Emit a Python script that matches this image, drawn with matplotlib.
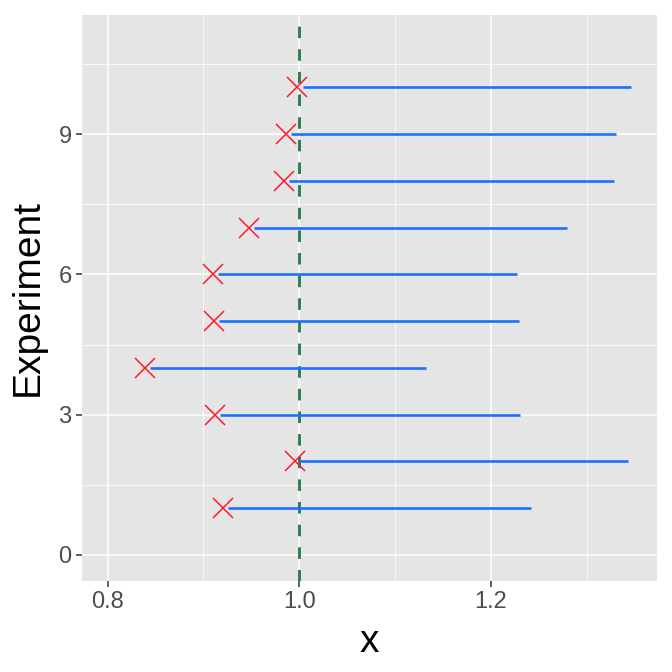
import matplotlib.pyplot as plt
import matplotlib.ticker as mticker

# Experiment index and estimates
experiment = [1, 2, 3, 4, 5, 6, 7, 8, 9, 10]
point_est = [0.9204, 0.9952, 0.9120, 0.8386, 0.9110, 0.9099, 0.9475, 0.9843, 0.9858, 0.9979]
seg_start = [0.9256, 1.0000, 0.9172, 0.8440, 0.9162, 0.9154, 0.9527, 0.9896, 0.9913, 1.0035]
seg_end = [1.2419, 1.3428, 1.2307, 1.1319, 1.2293, 1.2276, 1.2791, 1.3282, 1.3303, 1.3462]
ref_value = 1.0

x_ticks = [0.8, 1.0, 1.2]
y_ticks = [0, 3, 6, 9]

plt.rcParams.update({
    'font.family': ['Liberation Sans', 'DejaVu Sans'],
    'lines.scale_dashes': False,
})

fig = plt.figure(figsize=(6.72, 6.72), dpi=100)
ax = fig.add_axes([0.122, 0.1359, 0.855, 0.8418])
ax.set_facecolor('#E5E5E5')

# segments
for y, x0, x1 in zip(experiment, seg_start, seg_end):
    ax.plot([x0, x1], [y, y], color='#1F6FFF', linewidth=1.9,
            solid_capstyle='butt', zorder=3)

# point estimates
ax.plot(point_est, experiment, linestyle='none', marker='x', markersize=14,
        markeredgewidth=1.1, color='#FF1A2A', zorder=4)

# reference line
ax.axvline(ref_value, color='#2A7F4F', linewidth=2.1, dashes=(8.3, 8.0), zorder=2)

ax.set_xlim(0.7732, 1.3731)
ax.set_ylim(-0.55, 11.55)

ax.xaxis.set_major_locator(mticker.FixedLocator(x_ticks))
ax.xaxis.set_minor_locator(mticker.FixedLocator([0.9, 1.1, 1.3]))
ax.yaxis.set_major_locator(mticker.FixedLocator(y_ticks))
ax.yaxis.set_minor_locator(mticker.FixedLocator([1.5, 4.5, 7.5, 10.5]))
ax.xaxis.set_major_formatter(mticker.FormatStrFormatter('%.1f'))

ax.grid(True, which='major', color='white', linewidth=1.1, zorder=0)
ax.grid(True, which='minor', color='white', linewidth=0.55, zorder=0)
ax.set_axisbelow(True)

for s in ax.spines.values():
    s.set_visible(False)

ax.tick_params(which='major', length=4.5, width=1.1, color='#333333',
               labelcolor='#4D4D4D', labelsize=17, pad=3)
ax.tick_params(which='minor', length=0)

ax.set_xlabel('x', fontsize=28, color='black', labelpad=8)
ax.set_ylabel('Experiment', fontsize=28, color='black', labelpad=9)

fig.savefig('out.png', dpi=100)
